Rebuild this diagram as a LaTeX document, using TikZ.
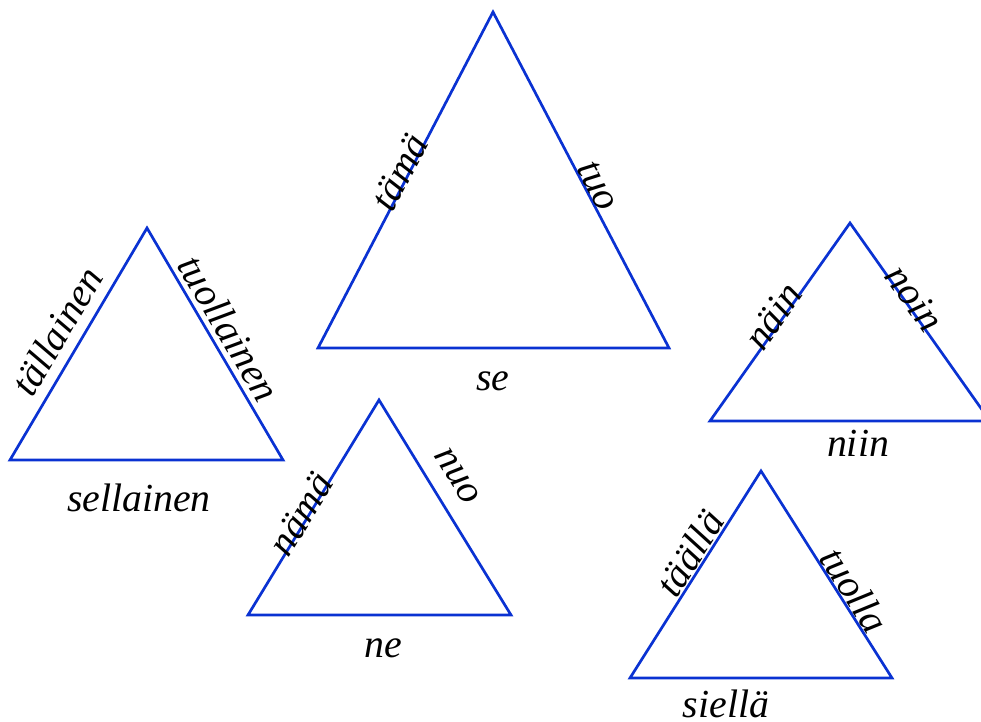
\documentclass[tikz,border=0pt]{standalone}
\usepackage{fontspec}
\setmainfont{Liberation Serif}
\definecolor{triblue}{RGB}{10,50,210}
\begin{document}
\begin{tikzpicture}[x=0.5pt,y=-0.5pt,
  tri/.style={draw=triblue,line width=1.35pt,line join=miter},
  lbl/.style={inner sep=0pt,font=\fontsize{19.9}{24}\selectfont\itshape}]
\useasboundingbox (0,0) rectangle (981,722);
\clip (0,0) rectangle (981,722);
% big triangle
\coordinate (A1) at (493,12); \coordinate (B1) at (318,348); \coordinate (C1) at (669,348);
\draw[tri] (B1) -- (A1) -- (C1) -- cycle;
\node[lbl,rotate=62.4] (tama) at (400,172) {tämä};
\node[lbl,rotate=-62.4] (tuo) at (598,186) {tuo};
\node[lbl] (se) at (493,381) {se};
% left triangle
\coordinate (A2) at (147,228); \coordinate (B2) at (10,460); \coordinate (C2) at (283,460);
\draw[tri] (B2) -- (A2) -- (C2) -- cycle;
\node[lbl,rotate=59.5] (tallainen) at (57,331) {tällainen};
\node[lbl,rotate=-59.5] (tuollainen) at (229,328) {tuollainen};
\node[lbl] (sellainen) at (139,498) {sellainen};
% middle triangle
\coordinate (A3) at (379,400); \coordinate (B3) at (248,615); \coordinate (C3) at (511,615);
\draw[tri] (B3) -- (A3) -- (C3) -- cycle;
\node[lbl,rotate=58.5] (nama) at (301,514) {nämä};
\node[lbl,rotate=-58.5] (nuo) at (457,476) {nuo};
\node[lbl] (ne) at (383,648) {ne};
% right triangle
\coordinate (A4) at (850,223); \coordinate (B4) at (710,421); \coordinate (C4) at (990,421);
\draw[tri] (B4) -- (A4) -- (C4) -- cycle;
\node[lbl,rotate=54.7] (nain) at (773,316) {näin};
\node[lbl,rotate=-54.7] (noin) at (915,298) {noin};
\node[lbl] (niin) at (858,443) {niin};
% bottom right triangle
\coordinate (A5) at (761,471); \coordinate (B5) at (630,678); \coordinate (C5) at (892,678);
\draw[tri] (B5) -- (A5) -- (C5) -- cycle;
\node[lbl,rotate=57.7] (taalla) at (690,553) {täällä};
\node[lbl,rotate=-57.7] (tuolla) at (855,590) {tuolla};
\node[lbl] (siella) at (726,704) {siellä};
\end{tikzpicture}
\end{document}
